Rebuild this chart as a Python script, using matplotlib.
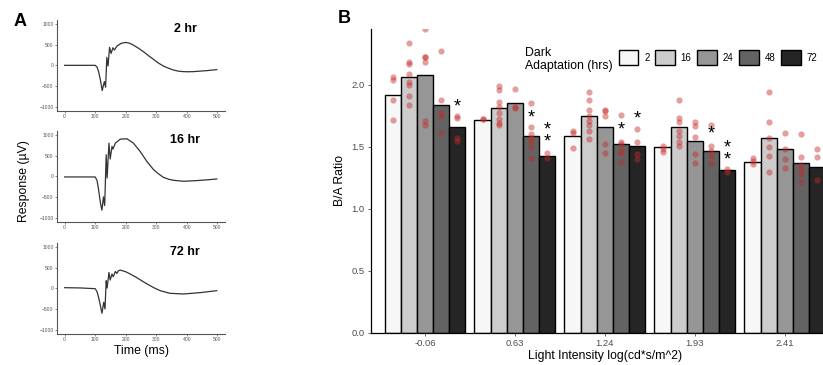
import matplotlib
matplotlib.use('Agg')
import matplotlib.pyplot as plt
from matplotlib.patches import Patch
import numpy as np

plt.rcParams['font.family'] = ['Liberation Sans', 'DejaVu Sans']

# ---------------- panel A: ERG traces (time ms, response uV) ----------------
t_2hr = [0, 50, 100, 106, 111, 117, 123, 127, 130, 134, 138, 142, 147, 152, 158, 163, 171,
         185, 198, 212, 225, 240, 258, 275, 291, 307, 323, 340, 356, 372, 389, 405, 421,
         443, 465, 482, 498]
v_2hr = [0, 0, 0, -40, -152, -352, -608, -480, -392, -528, 192, -16, 432, 288, 424, 368, 464,
         530, 552, 535, 488, 420, 328, 230, 144, 55, -16, -70, -112, -140, -152, -155, -152,
         -140, -128, -115, -104]

t_16hr = [0, 50, 100, 106, 111, 117, 122, 127, 131, 136, 139, 145, 149, 155, 158, 166, 182,
          204, 225, 247, 269, 291, 307, 323, 340, 356, 389, 432, 476, 498]
v_16hr = [-16, -16, -16, -100, -320, -640, -816, -496, -704, 520, -40, 800, 416, 720, 656, 800,
          896, 904, 800, 600, 360, 160, 60, -24, -70, -96, -120, -104, -80, -64]

t_72hr = [0, 50, 100, 106, 111, 117, 122, 128, 132, 136, 139, 145, 149, 155, 159, 166, 171,
          176, 182, 200, 215, 231, 247, 263, 280, 296, 313, 345, 389, 443, 498]
v_72hr = [16, 10, -8, -80, -216, -416, -600, -336, -496, 184, 8, 384, 200, 344, 280, 408, 360,
          424, 440, 400, 344, 280, 208, 135, 64, 0, -56, -120, -136, -104, -56]

trace_titles = ['2 hr', '16 hr', '72 hr']

# ---------------- panel B: B/A ratio ----------------
intensity = ['-0.06', '0.63', '1.24', '1.93', '2.41']
hours = ['2', '16', '24', '48', '72']
bar_colors = ['#F7F7F7', '#CCCCCC', '#969696', '#636363', '#252525']

ratio_2hr = [1.92, 1.72, 1.59, 1.50, 1.38]
ratio_16hr = [2.06, 1.81, 1.75, 1.66, 1.57]
ratio_24hr = [2.08, 1.85, 1.66, 1.55, 1.48]
ratio_48hr = [1.84, 1.59, 1.52, 1.47, 1.37]
ratio_72hr = [1.66, 1.43, 1.51, 1.31, 1.34]

# individual animals, one list per light intensity
pts_2hr = [[2.06, 2.04, 1.88, 1.72], [1.725, 1.725], [1.63, 1.61, 1.49],
           [1.51, 1.48, 1.46], [1.41, 1.39, 1.36]]
pts_16hr = [[2.34, 2.18, 2.165, 2.09, 2.02, 2.00, 1.91, 1.84],
            [1.99, 1.955, 1.86, 1.82, 1.77, 1.725, 1.69, 1.68],
            [1.94, 1.88, 1.80, 1.75, 1.71, 1.68, 1.63, 1.56],
            [1.88, 1.73, 1.70, 1.63, 1.59, 1.54, 1.51],
            [1.94, 1.70, 1.57, 1.50, 1.43, 1.30]]
pts_24hr = [[2.45, 2.225, 2.225, 2.18, 1.71, 1.68], [1.965, 1.82, 1.81],
            [1.795, 1.79, 1.75, 1.52, 1.45], [1.70, 1.67, 1.58, 1.44, 1.37],
            [1.61, 1.48, 1.40, 1.33]]
pts_48hr = [[2.27, 1.88, 1.77, 1.75, 1.61], [1.855, 1.66, 1.60, 1.57, 1.55, 1.50, 1.41],
            [1.76, 1.54, 1.52, 1.47, 1.45, 1.38], [1.68, 1.51, 1.47, 1.43, 1.37],
            [1.60, 1.42, 1.35, 1.32, 1.28, 1.22]]
pts_72hr = [[1.75, 1.73, 1.57, 1.55], [1.45, 1.41], [1.64, 1.54, 1.44, 1.40],
            [1.32, 1.30], [1.48, 1.42, 1.23]]

# significance marks: intensity index, hours index, centre height, number of stars
star_group = [0, 1, 1, 2, 2, 3, 3]
star_hour = [4, 3, 4, 3, 4, 3, 4]
star_y = [1.82, 1.735, 1.59, 1.633, 1.727, 1.60, 1.443]
star_n = [1, 1, 2, 1, 1, 1, 2]

fig = plt.figure(figsize=(8.23, 3.65), dpi=100)

# ***************************** panel A *****************************
traces = [(t_2hr, v_2hr), (t_16hr, v_16hr), (t_72hr, v_72hr)]
bottoms = [0.696, 0.392, 0.085]
for i, (tt, vv) in enumerate(traces):
    ax = fig.add_axes([0.0693, bottoms[i], 0.2041, 0.250])
    ax.plot(tt, vv, color='#333333', lw=0.9)
    ax.set_xlim(-25, 525)
    ax.set_ylim(-1100, 1100)
    ax.set_xticks([0, 100, 200, 300, 400, 500])
    ax.set_yticks([-1000, -500, 0, 500, 1000])
    ax.tick_params(labelsize=3.6, colors='#555555', length=1.5, width=0.5, pad=1)
    for s in ['top', 'right']:
        ax.spines[s].set_visible(False)
    for s in ['left', 'bottom']:
        ax.spines[s].set_color('#555555')
        ax.spines[s].set_linewidth(0.8)
    ax.text(395, 880, trace_titles[i], fontsize=9, fontweight='bold', ha='center', va='center')
    if i == 2:
        ax.set_xlabel('Time (ms)', fontsize=8.8, labelpad=2)

fig.text(0.029, 0.505, 'Response (\u00b5V)', rotation=90, fontsize=8.8, ha='center', va='center')
fig.text(0.024, 0.94, 'A', fontsize=13, fontweight='bold', ha='center', va='center')

# ***************************** panel B *****************************
axb = fig.add_axes([0.4508, 0.0877, 0.5686, 0.8329])
ratios = [ratio_2hr, ratio_16hr, ratio_24hr, ratio_48hr, ratio_72hr]
points = [pts_2hr, pts_16hr, pts_24hr, pts_48hr, pts_72hr]
xg = np.arange(1, len(intensity) + 1)
w = 0.18
offsets = [-2 * w, -w, 0, w, 2 * w]

for h in range(len(hours)):
    axb.bar(xg + offsets[h], ratios[h], width=w, color=bar_colors[h],
            edgecolor='black', linewidth=1.0, zorder=2)
for h in range(len(hours)):
    for g in range(len(intensity)):
        yy = points[h][g]
        axb.scatter([xg[g] + offsets[h]] * len(yy), yy, s=20, color='#c62828',
                    alpha=0.45, linewidths=0, zorder=3)
for g, h, y, n in zip(star_group, star_hour, star_y, star_n):
    axb.text(xg[g] + offsets[h], y, '\n'.join(['*'] * n), fontsize=13, ha='center',
             va='center', linespacing=0.62, zorder=4)

axb.set_xlim(0.4, 5.6)
axb.set_ylim(0, 2.45)
axb.set_xticks(xg)
axb.set_xticklabels(intensity)
axb.set_yticks([0.0, 0.5, 1.0, 1.5, 2.0])
axb.set_yticklabels(['0.0', '0.5', '1.0', '1.5', '2.0'])
axb.tick_params(labelsize=6.8, colors='#4d4d4d', length=2.5, width=0.6, pad=2)
for s in ['top', 'right']:
    axb.spines[s].set_visible(False)
for s in ['left', 'bottom']:
    axb.spines[s].set_color('black')
    axb.spines[s].set_linewidth(0.9)
axb.set_xlabel('Light Intensity log(cd*s/m^2)', fontsize=8.8, labelpad=1)
axb.set_ylabel('B/A Ratio', fontsize=8.8, labelpad=4)

handles = [Patch(facecolor=c, edgecolor='black', linewidth=1.0) for c in bar_colors]
fig.legend(handles, hours, ncol=5, frameon=False, fontsize=7,
           loc='center left', bbox_to_anchor=(0.752, 0.842),
           handlelength=2.0, handleheight=2.0, handletextpad=0.6,
           columnspacing=0.6, borderaxespad=0, borderpad=0)
fig.text(0.638, 0.836, 'Dark\nAdaptation (hrs)', fontsize=8.8, ha='left', va='center',
         linespacing=1.1)
fig.text(0.418, 0.948, 'B', fontsize=13, fontweight='bold', ha='center', va='center')

fig.savefig('out.png', dpi=100)
